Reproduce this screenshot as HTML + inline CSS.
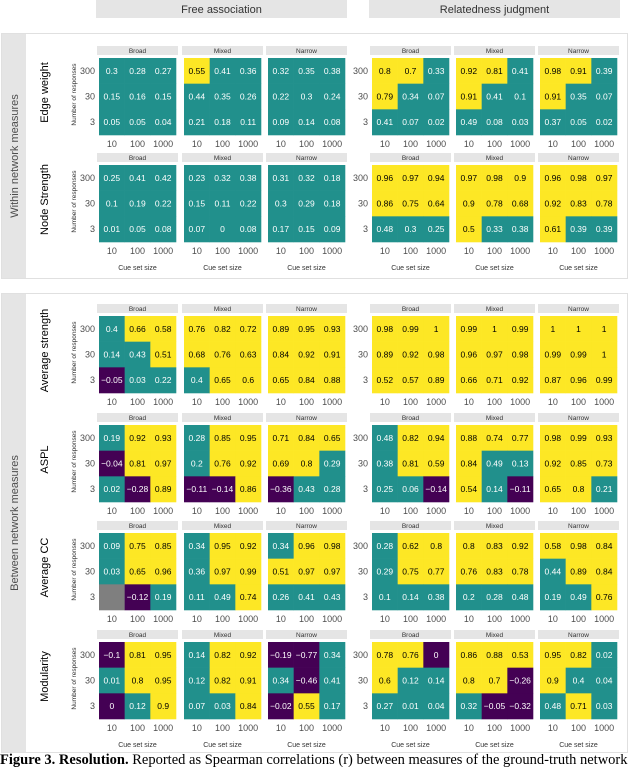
<!DOCTYPE html>
<html><head><meta charset="utf-8"><style>
html,body{margin:0;padding:0;background:#fff;width:640px;height:767px;overflow:hidden}
svg{display:block}
text{font-family:"Liberation Sans",sans-serif}
</style></head><body>
<svg id="fig" width="640" height="767" viewBox="0 0 640 767" xmlns="http://www.w3.org/2000/svg">
<rect x="96" y="0" width="251" height="18" fill="#e5e5e5"/>
<text x="221.5" y="13" font-size="11" fill="#333" text-anchor="middle">Free association</text>
<rect x="369" y="0" width="251" height="18" fill="#e5e5e5"/>
<text x="494.5" y="13" font-size="11" fill="#333" text-anchor="middle">Relatedness judgment</text>

<rect x="1.5" y="33.5" width="626" height="245" fill="#fff" stroke="#e0e0e0"/>
<rect x="2" y="34" width="24" height="244" fill="#e5e5e5"/>
<text transform="translate(18,156) rotate(-90)" font-size="11" fill="#4d4d4d" text-anchor="middle">Within network measures</text>

<rect x="1.5" y="293.5" width="626" height="459" fill="#fff" stroke="#e0e0e0"/>
<rect x="2" y="294" width="24" height="458" fill="#e5e5e5"/>
<text transform="translate(18,523) rotate(-90)" font-size="11" fill="#4d4d4d" text-anchor="middle">Between network measures</text>

<g id="panels"></g>

<text x="0" y="764" style="font-family:'Liberation Serif',serif;font-size:14.5px" fill="#000"><tspan font-weight="bold">Figure 3.  Resolution.</tspan> Reported as Spearman correlations (r) between measures of the ground-truth network</text>
</svg>
<script>
// Axis categories
const cueSizes = ["10", "100", "1000"];
const responseCounts = ["300", "30", "3"];
const domains = ["Broad", "Mixed", "Narrow"];
const measures = ["Edge weight", "Node Strength", "Average strength", "ASPL", "Average CC", "Modularity"];

// Values: [panel Broad, Mixed, Narrow] -> rows [300,30,3] -> cols [10,100,1000]
const edgeWeightFA = [[[0.3,0.28,0.27],[0.15,0.16,0.15],[0.05,0.05,0.04]],[[0.55,0.41,0.36],[0.44,0.35,0.26],[0.21,0.18,0.11]],[[0.32,0.35,0.38],[0.22,0.3,0.24],[0.09,0.14,0.08]]];
const edgeWeightRJ = [[[0.8,0.7,0.33],[0.79,0.34,0.07],[0.41,0.07,0.02]],[[0.92,0.81,0.41],[0.91,0.41,0.1],[0.49,0.08,0.03]],[[0.98,0.91,0.39],[0.91,0.35,0.07],[0.37,0.05,0.02]]];
const nodeStrengthFA = [[[0.25,0.41,0.42],[0.1,0.19,0.22],[0.01,0.05,0.08]],[[0.23,0.32,0.38],[0.15,0.11,0.22],[0.07,0,0.08]],[[0.31,0.32,0.18],[0.3,0.29,0.18],[0.17,0.15,0.09]]];
const nodeStrengthRJ = [[[0.96,0.97,0.94],[0.86,0.75,0.64],[0.48,0.3,0.25]],[[0.97,0.98,0.9],[0.9,0.78,0.68],[0.5,0.33,0.38]],[[0.96,0.98,0.97],[0.92,0.83,0.78],[0.61,0.39,0.39]]];
const avgStrengthFA = [[[0.4,0.66,0.58],[0.14,0.43,0.51],[-0.05,0.03,0.22]],[[0.76,0.82,0.72],[0.68,0.76,0.63],[0.4,0.65,0.6]],[[0.89,0.95,0.93],[0.84,0.92,0.91],[0.65,0.84,0.88]]];
const avgStrengthRJ = [[[0.98,0.99,1],[0.89,0.92,0.98],[0.52,0.57,0.89]],[[0.99,1,0.99],[0.96,0.97,0.98],[0.66,0.71,0.92]],[[1,1,1],[0.99,0.99,1],[0.87,0.96,0.99]]];
const asplFA = [[[0.19,0.92,0.93],[-0.04,0.81,0.97],[0.02,-0.28,0.89]],[[0.28,0.85,0.95],[0.2,0.76,0.92],[-0.11,-0.14,0.86]],[[0.71,0.84,0.65],[0.69,0.8,0.29],[-0.36,0.43,0.28]]];
const asplRJ = [[[0.48,0.82,0.94],[0.38,0.81,0.59],[0.25,0.06,-0.14]],[[0.88,0.74,0.77],[0.84,0.49,0.13],[0.54,0.14,-0.11]],[[0.98,0.99,0.93],[0.92,0.85,0.73],[0.65,0.8,0.21]]];
const avgCCFA = [[[0.09,0.75,0.85],[0.03,0.65,0.96],[null,-0.12,0.19]],[[0.34,0.95,0.92],[0.36,0.97,0.99],[0.11,0.49,0.74]],[[0.34,0.96,0.98],[0.51,0.97,0.97],[0.26,0.41,0.43]]];
const avgCCRJ = [[[0.28,0.62,0.8],[0.29,0.75,0.77],[0.1,0.14,0.38]],[[0.8,0.83,0.92],[0.76,0.83,0.78],[0.2,0.28,0.48]],[[0.58,0.98,0.84],[0.44,0.89,0.84],[0.19,0.49,0.76]]];
const modularityFA = [[[-0.1,0.81,0.95],[0.01,0.8,0.95],[-0.001,0.12,0.9]],[[0.14,0.82,0.92],[0.12,0.82,0.91],[0.07,0.03,0.84]],[[-0.19,-0.77,0.34],[0.34,-0.46,0.41],[-0.02,0.55,0.17]]];
const modularityRJ = [[[0.78,0.76,-0.001],[0.6,0.12,0.14],[0.27,0.01,0.04]],[[0.86,0.88,0.53],[0.8,0.7,-0.26],[0.32,-0.05,-0.32]],[[0.95,0.82,0.02],[0.9,0.4,0.04],[0.48,0.71,0.03]]];

const rowsFA = [edgeWeightFA, nodeStrengthFA, avgStrengthFA, asplFA, avgCCFA, modularityFA];
const rowsRJ = [edgeWeightRJ, nodeStrengthRJ, avgStrengthRJ, asplRJ, avgCCRJ, modularityRJ];

const NS = "http://www.w3.org/2000/svg";
const root = document.getElementById("panels");
const panelLeft = [99, 184, 268, 372, 456, 540];
const rowTop = [58, 165, 316, 425, 533, 642];
const PW = 77, PH = 77;
function xScale(panel, i) { return panelLeft[panel] + (i + 0.5) * PW / cueSizes.length; }
function yScale(row, j) { return rowTop[row] + (j + 0.5) * PH / responseCounts.length; }
function colorOf(v) { if (v === null) return "#7f7f7f"; if (v < 0) return "#440154"; if (v >= 0.5) return "#fde725"; return "#21908c"; }
function fmt(v) { const r = Math.round(v * 100) / 100; if (r === 0) return "0"; return r < 0 ? "\u2212" + String(-r) : String(r); }
function mk(tag, attrs, txt) { const e = document.createElementNS(NS, tag); for (const k in attrs) e.setAttribute(k, attrs[k]); if (txt !== undefined) e.textContent = txt; root.appendChild(e); return e; }

for (let r = 0; r < measures.length; r++) {
  const slug = measures[r].toLowerCase().replace(/ /g, "-");
  const cy = rowTop[r] + PH / 2;
  const mt = mk("text", {x: 52, y: cy, "font-size": 11, fill: "#000", "text-anchor": "middle", transform: `rotate(-90,48,${cy})`}, measures[r]);
  
  
  const yt = mk("text", {x: 78, y: cy, "font-size": 6.5, fill: "#333", "text-anchor": "middle", transform: `rotate(-90,76,${cy})`}, "Number of responses");
  
  
  for (let p = 0; p < 6; p++) {
    const data = p < 3 ? rowsFA[r][p] : rowsRJ[r][p - 3];
    const left = panelLeft[p];
    const st = mk("rect", {x: left - 2, y: rowTop[r] - 12, width: PW + 4, height: 9, fill: "#e5e5e5"});
    
    
    const sl = mk("text", {x: left + PW / 2, y: rowTop[r] - 5, "font-size": 6.5, fill: "#333", "text-anchor": "middle"}, domains[p % 3]);
    
    
    for (let j = 0; j < 3; j++) {
      if (p === 0 || p === 3) {
        const tl = mk("text", {x: left - 4, y: yScale(r, j) + 3, "font-size": 9, fill: "#4d4d4d", "text-anchor": "end"}, responseCounts[j]);
        
        
      }
      for (let i = 0; i < 3; i++) {
        const v = data[j][i];
        const cw = PW / 3, ch = PH / 3;
        const c = mk("rect", {x: xScale(p, i) - cw / 2, y: yScale(r, j) - ch / 2, width: cw + 0.3, height: ch + 0.3, fill: colorOf(v)});
        
        
        if (v !== null) {
          const t = mk("text", {x: xScale(p, i), y: yScale(r, j) + 3, "font-size": 8.5, fill: v >= 0.5 ? "#000" : "#fff", "text-anchor": "middle"}, fmt(v));
          
          
        }
      }
    }
    for (let i = 0; i < 3; i++) {
      const xl = mk("text", {x: xScale(p, i), y: rowTop[r] + PH + 12, "font-size": 9, fill: "#4d4d4d", "text-anchor": "middle"}, cueSizes[i]);
      
      
    }
    if (r === 1 || r === 5) {
      const xt = mk("text", {x: left + PW / 2, y: rowTop[r] + PH + 28, "font-size": 7, fill: "#333", "text-anchor": "middle"}, "Cue set size");
      
      
    }
  }
}
</script>
</body></html>
